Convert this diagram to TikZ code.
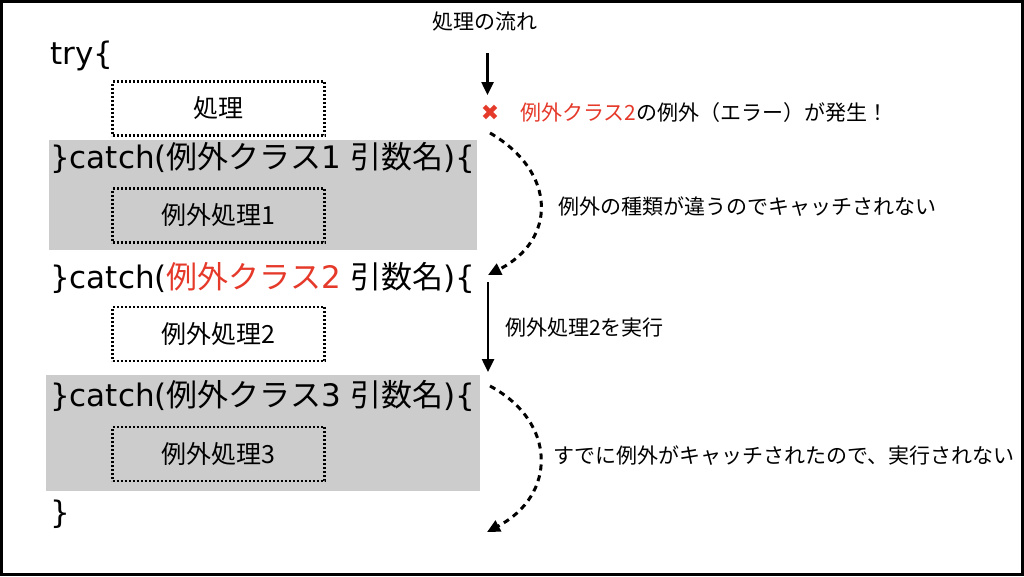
\documentclass[tikz,border=0pt]{standalone}
\usepackage{fontspec}
\setmainfont{Noto Sans CJK JP}
\newfontfamily\latinfont{DejaVu Sans}
\usetikzlibrary{arrows.meta}
\definecolor{errred}{RGB}{229,57,42}
\definecolor{catchgray}{RGB}{204,204,204}
\newcommand{\lt}[1]{{\latinfont #1}}

\begin{document}
\begin{tikzpicture}[x=1pt,y=-1pt,
	code/.style={anchor=base west,inner sep=0pt,font=\fontsize{31}{36}\selectfont},
	procbox/.style={draw,line width=2.2pt,dash pattern=on 2pt off 2pt,
		minimum width=212pt,minimum height=54pt,inner sep=0pt,font=\fontsize{25}{29}\selectfont},
	note/.style={anchor=west,inner sep=0pt,font=\fontsize{21}{25}\selectfont},
	flow/.style={line width=2.5pt,-{Triangle[length=13pt,width=12pt]}},
	flowskip/.style={flow,line width=3pt,dash pattern=on 6pt off 5pt}]
\useasboundingbox (0,0) rectangle (1024,576);
\draw[line width=3pt] (1.5,1.5) rectangle (1022.5,574.5);

% catch blocks that are skipped
\fill[catchgray] (49,140) rectangle (477,250);
\fill[catchgray] (46,375) rectangle (480,491);

% code
\node[code] (try) at (50,64) {\lt{try\{}};
\node[procbox] (proc) at (218.5,108.5) {処理};
\node[code] (catch1) at (50,168) {\lt{\}catch(}例外クラス\lt{1 }引数名\lt{)\{}};
\node[procbox] (handler1) at (218.5,215.5) {例外処理1};
\node[code] (catch2) at (50,288) {\lt{\}catch(}\textcolor{errred}{例外クラス\lt{2}}\lt{ }引数名\lt{)\{}};
\node[procbox] (handler2) at (218.5,334) {例外処理2};
\node[code] (catch3) at (50,406) {\lt{\}catch(}例外クラス\lt{3 }引数名\lt{)\{}};
\node[procbox] (handler3) at (218.5,454) {例外処理3};
\node[code] (close) at (50,523) {\lt{\}}};

% flow
\node[inner sep=0pt,font=\fontsize{21}{25}\selectfont] (flowtitle) at (485,22) {処理の流れ};
\coordinate (flowtop) at (487.5,53);
\coordinate (flowtip) at (487.5,95);
\node[inner sep=0pt,text=errred,font=\latinfont\fontsize{22}{24}\selectfont] (err) at (490,113) {✖};
\node[note] (errmsg) at (520,113) {\textcolor{errred}{例外クラス2}の例外（エラー）が発生！};
\coordinate (skip1s) at (490,133);
\coordinate (skip1e) at (488,275);
\node[note] (skipmsg1) at (558,207) {例外の種類が違うのでキャッチされない};
\coordinate (run2s) at (488,282);
\coordinate (run2e) at (488,372);
\node[note] (runmsg) at (505,328) {例外処理2を実行};
\coordinate (skip2s) at (490,386);
\coordinate (skip2e) at (487,532);
\node[note] (skipmsg2) at (553,456) {すでに例外がキャッチされたので、実行されない};

\draw[flow] (flowtop) -- (flowtip);
\draw[flowskip] (skip1s) .. controls (557,172) and (557,240) .. (skip1e);
\draw[flow] (run2s) -- (run2e);
\draw[flowskip] (skip2s) .. controls (557,422) and (557,495) .. (skip2e);
\end{tikzpicture}
\end{document}
